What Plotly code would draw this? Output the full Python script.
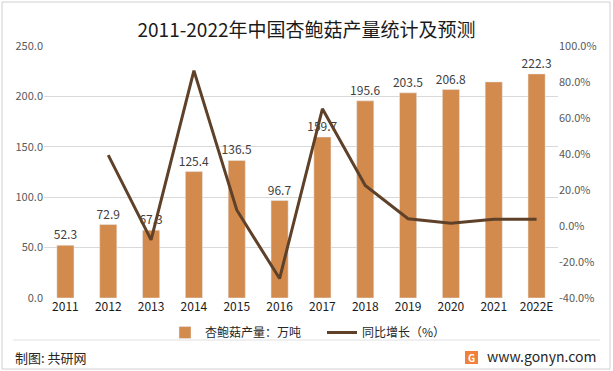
import plotly.graph_objects as go

years = ["2011", "2012", "2013", "2014", "2015", "2016", "2017", "2018", "2019", "2020", "2021", "2022E"]
production = [52.3, 72.9, 67.3, 125.4, 136.5, 96.7, 159.7, 195.6, 203.5, 206.8, 214.4, 222.3]
production_labels = ["52.3", "72.9", "67.3", "125.4", "136.5", "96.7", "159.7", "195.6", "203.5", "206.8", "", "222.3"]
growth = [None, 39.4, -7.7, 86.3, 8.9, -29.2, 65.1, 22.5, 4.0, 1.6, 3.7, 3.7]
left_ticks = [0, 50, 100, 150, 200, 250]
right_ticks = [-40, -20, 0, 20, 40, 60, 80, 100]

FONT = "Noto Sans CJK SC, Noto Sans, sans-serif"

fig = go.Figure()
fig.add_trace(go.Bar(
    x=years, y=production, name="杏鲍菇产量：万吨",
    marker=dict(color="#D38B4D"), width=0.4,
    text=production_labels, textposition="outside", cliponaxis=False,
    constraintext="none",
    textfont=dict(size=12, color="#404040", family=FONT),
))
fig.add_trace(go.Scatter(
    x=years, y=growth, name="同比增长（%）", yaxis="y2",
    mode="lines", line=dict(color="#5E4128", width=3),
))

W = 514.0
H = 252.0
def px(x):
    return (x - 44) / W
def py(y):
    return (298 - y) / H

fig.update_layout(
    width=613, height=371,
    margin=dict(l=44, r=55, t=46, b=73),
    paper_bgcolor="white", plot_bgcolor="white",
    font=dict(family=FONT, size=11, color="#595959"),
    title=dict(text="2011-2022年中国杏鲍菇产量统计及预测", x=0.5, xanchor="center",
               y=1 - 30 / 371, yanchor="middle",
               font=dict(size=19, color="#1a1a1a", family=FONT)),
    showlegend=True,
    legend=dict(orientation="h", x=px(165), xanchor="left", y=py(318), yanchor="top",
                font=dict(size=12, color="#262626", family=FONT),
                traceorder="normal", tracegroupgap=0, entrywidth=112,
                bgcolor="rgba(0,0,0,0)"),
    xaxis=dict(type="category", showgrid=False, showline=False, ticks="",
               tickfont=dict(size=12, color="#1a1a1a")),
    yaxis=dict(range=[0, 250], tickvals=left_ticks,
               ticktext=[f"{v:.1f}" for v in left_ticks],
               showgrid=True, gridcolor="#D9D9D9", gridwidth=1, zeroline=False,
               showline=False, ticks="", tickfont=dict(size=11, color="#595959")),
    yaxis2=dict(range=[-40, 100], tickvals=right_ticks,
                ticktext=[f"{v:.1f}%" for v in right_ticks],
                overlaying="y", side="right", showgrid=False, zeroline=False,
                showline=False, ticks="", tickfont=dict(size=11, color="#595959")),
    shapes=[
        dict(type="rect", xref="paper", yref="paper", x0=px(2), x1=px(610),
             y0=py(369), y1=py(2), line=dict(color="#D0D0D0", width=1), layer="below"),
        dict(type="line", xref="paper", yref="paper", x0=px(13), x1=px(600),
             y0=py(340), y1=py(340), line=dict(color="#E0E0E0", width=1)),
        dict(type="rect", xref="paper", yref="paper",
             x0=px(465), x1=px(478), y0=py(364), y1=py(351),
             fillcolor="#F0803C", line=dict(width=0)),
    ],
    annotations=[
        dict(text="制图: 共研网", xref="paper", yref="paper", x=px(13), y=py(357),
             xanchor="left", yanchor="middle", showarrow=False,
             font=dict(size=13, color="#262626", family=FONT)),
        dict(text="www.gonyn.com", xref="paper", yref="paper", x=px(598), y=py(356),
             xanchor="right", yanchor="middle", showarrow=False,
             font=dict(size=14, color="#262626", family=FONT)),
        dict(text="<b>G</b>", xref="paper", yref="paper", x=px(471.5), y=py(357.5),
             xanchor="center", yanchor="middle", showarrow=False,
             font=dict(size=10, color="white", family=FONT)),
    ],
)

fig.write_html("out.html", config={"displayModeBar": False},
               post_script="document.body.style.margin='0';")
